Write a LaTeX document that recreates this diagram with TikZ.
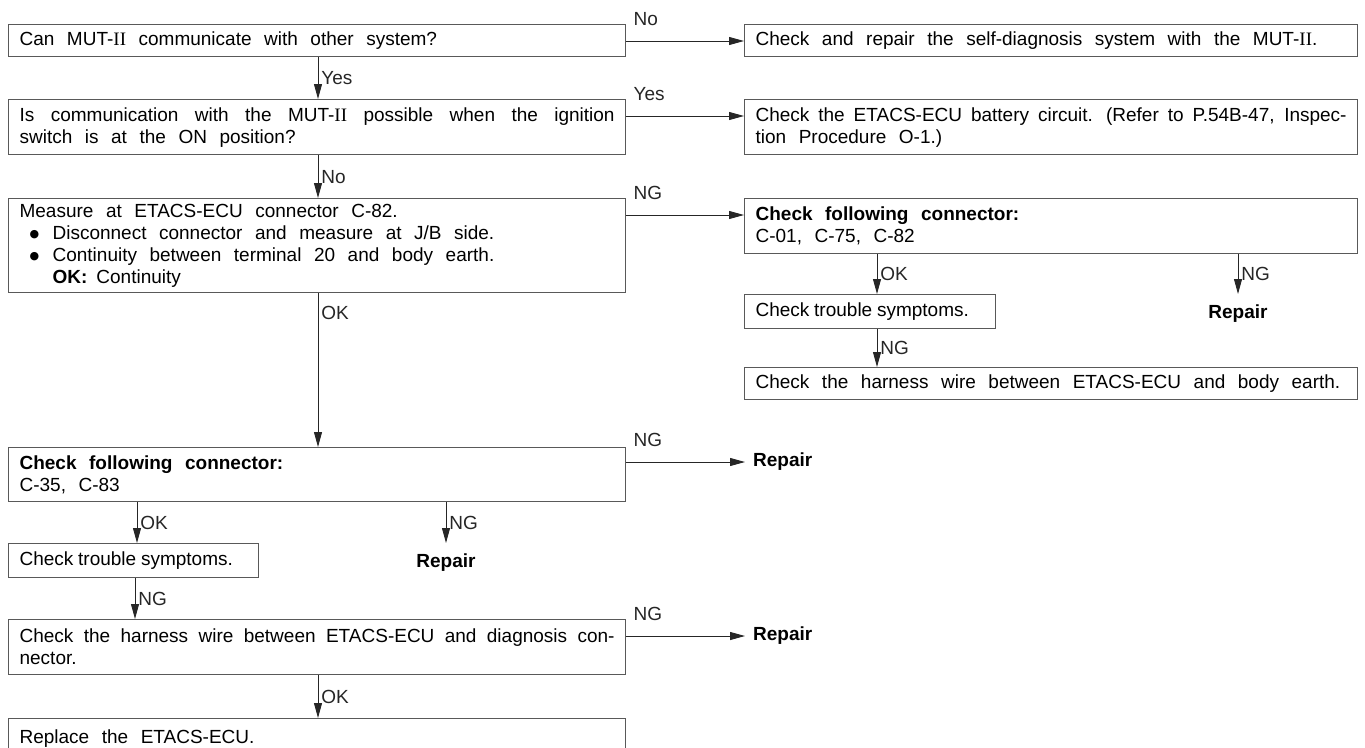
\documentclass[tikz,border=0pt]{standalone}
\usepackage{fontspec}
\setmainfont{Liberation Sans}
\newfontfamily\romfont{Liberation Serif}
\newfontfamily\symfont{DejaVu Sans}
\usetikzlibrary{arrows.meta, positioning, calc}
\newcommand{\MUT}{MUT-{\romfont II}}
\newcommand{\boxfont}{\fontsize{19}{22}\selectfont\spaceskip=0.66em plus 0.3em minus 0.4em\relax}
\newcommand{\bitem}{\hspace*{10pt}\makebox[23pt][l]{\raisebox{2pt}{\fontsize{11}{11}\symfont ●}}}
\tikzset{%
	chk/.style={draw=black!65, line width=1.2pt, rectangle, anchor=north west,%
		inner xsep=11pt, inner ysep=0pt, align=justify, font=\boxfont},
	arr/.style={-{Triangle[length=15pt,width=8pt]}, line width=0.9pt, black!85},
	hlbl/.style={anchor=base west, inner sep=0pt, xshift=7pt, yshift=16pt,%
		font=\fontsize{19}{22}\selectfont},
	vlbl/.style={anchor=west, inner xsep=3pt, inner ysep=0pt,%
		font=\fontsize{19}{22}\selectfont},
	rep/.style={font=\fontsize{19}{22}\selectfont\bfseries, text height=13.5pt,%
		text depth=4pt, inner xsep=0pt}
}
\begin{document}
\begin{tikzpicture}[x=1pt, y=-1pt]
	\useasboundingbox (0,0) rectangle (1365,747);
	% columns of the vertical arrows
	\coordinate (cA) at (318,0);
	\coordinate (cB) at (877,0);
	\coordinate (cC) at (1238,0);
	\coordinate (cD) at (137,0);
	\coordinate (cE) at (446,0);

	% left column
	\node[chk, text width=595pt, minimum height=32pt] (q1) at (8,24)
		{\mbox{Can \MUT{} communicate with other system?}};
	\node[chk, text width=595pt, minimum height=55pt] (q2) at (8,99)
		{Is communication with the \MUT{} possible when the ignition\linebreak
		switch is at the ON position?};
	\node[chk, text width=595pt, minimum height=94pt] (q3) at (8,198)
		{Measure at ETACS-ECU connector C-82.\\
		\bitem Disconnect connector and measure at J/B side.\\
		\bitem Continuity between terminal 20 and body earth.\\
		\hspace*{33pt}\textbf{OK:}\hspace{9pt}Continuity};
	\node[chk, text width=595pt, minimum height=54pt] (q4) at (8,447)
		{\textbf{Check following connector:}\\C-35, C-83};
	\node[chk, text width=228pt, minimum height=34pt] (t2) at (8,543)
		{\mbox{\spaceskip=0.25em Check trouble symptoms.}};
	\node[chk, text width=595pt, minimum height=55pt] (h2) at (8,619)
		{Check the harness wire between ETACS-ECU and diagnosis con-\linebreak
		nector.};
	\node[chk, text width=595pt, minimum height=40pt] (r7) at (8,718)
		{\mbox{Replace the ETACS-ECU.}};
	\node[rep, anchor=north, inner ysep=10.5pt] (rep3) at (cE |- t2.north) {Repair};
	\node[rep, anchor=west, inner xsep=8pt] (rep2) at ([yshift=-15pt]q4.north east -| 745,0) {Repair};
	\node[rep, anchor=west, inner xsep=8pt] (rep4) at ([yshift=-17pt]h2.north east -| 745,0) {Repair};

	% right column
	\node[chk, text width=591pt, minimum height=32pt] (a1) at (744,24)
		{\mbox{Check and repair the self-diagnosis system with the \MUT.}};
	\node[chk, text width=591pt, minimum height=55pt] (a2) at (744,99)
		{Check the ETACS-ECU battery circuit. (Refer to P.54B-47, Inspec-\linebreak
		tion Procedure O-1.)};
	\node[chk, text width=591pt, minimum height=55pt] (c1) at (744,198)
		{\textbf{Check following connector:}\\C-01, C-75, C-82};
	\node[chk, text width=229pt, minimum height=34pt] (t1) at (744,294)
		{\mbox{\spaceskip=0.25em Check trouble symptoms.}};
	\node[rep, anchor=north, inner ysep=11pt] (rep1) at (cC |- t1.north) {Repair};
	\node[chk, text width=591pt, minimum height=32pt] (h1) at (744,367)
		{\mbox{Check the harness wire between ETACS-ECU and body earth.}};

	% vertical arrows
	\draw[arr] (q1.south -| cA) -- node[vlbl]{Yes} (q2.north -| cA);
	\draw[arr] (q2.south -| cA) -- node[vlbl]{No} (q3.north -| cA);
	\draw[arr] (q3.south -| cA) -- node[vlbl, pos=0.13]{OK} (q4.north -| cA);
	\draw[arr] (q4.south -| cD) -- node[vlbl]{OK} (t2.north -| cD);
	\draw[arr] (q4.south -| cE) -- node[vlbl]{NG} (rep3.north);
	\draw[arr] (t2.south -| 135,0) -- node[vlbl]{NG} (h2.north -| 135,0);
	\draw[arr] (h2.south -| cA) -- node[vlbl]{OK} (r7.north -| cA);
	\draw[arr] (c1.south -| cB) -- node[vlbl]{OK} (t1.north -| cB);
	\draw[arr] (c1.south -| cC) -- node[vlbl]{NG} (rep1.north);
	\draw[arr] (t1.south -| cB) -- node[vlbl]{NG} (h1.north -| cB);

	% horizontal arrows
	\draw[arr] ([yshift=-17pt]q1.north east) -- node[hlbl, pos=0]{No} ([yshift=-17pt]a1.north west);
	\draw[arr] ([yshift=-17pt]q2.north east) -- node[hlbl, pos=0]{Yes} ([yshift=-17pt]a2.north west);
	\draw[arr] ([yshift=-17pt]q3.north east) -- node[hlbl, pos=0]{NG} ([yshift=-17pt]c1.north west);
	\draw[arr] ([yshift=-15pt]q4.north east) -- node[hlbl, pos=0]{NG} (rep2.west);
	\draw[arr] ([yshift=-17pt]h2.north east) -- node[hlbl, pos=0]{NG} (rep4.west);
\end{tikzpicture}
\end{document}
